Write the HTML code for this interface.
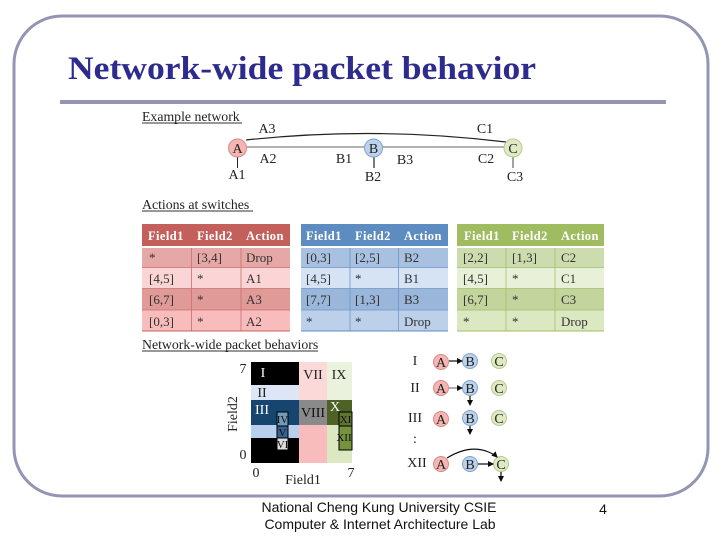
<!DOCTYPE html>
<html>
<head>
<meta charset="utf-8">
<style>
html,body{margin:0;padding:0;background:#fff;width:720px;height:540px;overflow:hidden}
svg{display:block}
.s{font-family:"Liberation Serif",serif;fill:#222}
.f{font-family:"Liberation Sans",sans-serif;fill:#111}
.c{font-size:13px;fill:#333}
.h{font-size:12.5px;font-weight:bold;fill:#fff;letter-spacing:.4px}
.u{font-size:13.8px;fill:#222}
</style>
</head>
<body>
<svg width="720" height="540" viewBox="0 0 720 540" xmlns="http://www.w3.org/2000/svg">
<defs>
<filter id="b" x="-2%" y="-2%" width="104%" height="104%"><feGaussianBlur stdDeviation="0.35"/></filter>
<marker id="ar" markerWidth="7" markerHeight="7" refX="5" refY="3" orient="auto" markerUnits="userSpaceOnUse"><path d="M0,0 L6,3 L0,6 z" fill="#111"/></marker>
</defs>
<rect x="14" y="16" width="694" height="480" rx="48" ry="48" fill="#fff" stroke="#9495b5" stroke-width="3"/>
<rect x="60" y="100" width="606" height="4" fill="#9495b5"/>
<text x="68" y="79" textLength="468" lengthAdjust="spacingAndGlyphs" style="font-family:'Liberation Serif',serif;font-weight:bold;font-size:33px;fill:#2e2b8f">Network-wide packet behavior</text>

<g filter="url(#b)">
<!-- Example network -->
<text class="s u" x="142" y="121">Example network</text><rect x="142" y="122.500" width="100" height="1" fill="#333"/>
<path d="M246,140 Q375,126 506,142" fill="none" stroke="#222" stroke-width="1.200"/>
<line x1="247" y1="147" x2="504" y2="147" stroke="#666" stroke-width="1"/>
<line x1="237.500" y1="157" x2="237.500" y2="168" stroke="#222" stroke-width="1"/>
<line x1="374" y1="157" x2="374" y2="168" stroke="#222" stroke-width="1.200"/>
<line x1="513" y1="157" x2="513" y2="168" stroke="#444" stroke-width="1"/>
<circle cx="237.500" cy="148" r="9" fill="#f5b5b2" stroke="#d88a88"/>
<circle cx="373.500" cy="148" r="9" fill="#bcd2ec" stroke="#7fa3cc"/>
<circle cx="513" cy="148" r="9" fill="#dfeac4" stroke="#b5c98c"/>
<g class="s" font-size="14" text-anchor="middle">
<text x="237.500" y="153">A</text><text x="373.500" y="153">B</text><text x="513" y="153">C</text>
<text x="267" y="133">A3</text><text x="485" y="133">C1</text>
<text x="268" y="163">A2</text><text x="344" y="163">B1</text><text x="405" y="164">B3</text><text x="486" y="163">C2</text>
<text x="237" y="179">A1</text><text x="373" y="181">B2</text><text x="515" y="181">C3</text>
</g>
<text class="s u" x="142" y="209">Actions at switches</text><rect x="142" y="210.500" width="111" height="1" fill="#333"/>

<!-- Red table -->
<rect x="142" y="224" width="148" height="22" fill="#c4605c"/>
<rect x="142" y="248" width="148" height="19.500" fill="#e6a8a6"/>
<rect x="142" y="267.500" width="148" height="21" fill="#fbd5d5"/>
<rect x="142" y="288.500" width="148" height="21.500" fill="#e09b99"/>
<rect x="142" y="310" width="148" height="21" fill="#f9bcbc"/>
<path d="M142,267.500H290M142,288.500H290M142,310H290M191.500,248V331M241,248V331" stroke="#c9706d" stroke-width=".8" fill="none"/>
<rect x="142" y="330.500" width="148" height="1" fill="#c4605c"/>
<!-- Blue table -->
<rect x="301" y="224" width="147" height="22" fill="#5b8cc0"/>
<rect x="301" y="248" width="147" height="19.500" fill="#a9c1e0"/>
<rect x="301" y="267.500" width="147" height="21" fill="#d5e3f5"/>
<rect x="301" y="288.500" width="147" height="21.500" fill="#9ab6da"/>
<rect x="301" y="310" width="147" height="21" fill="#bcd0ea"/>
<path d="M301,267.500H448M301,288.500H448M301,310H448M350,248V331M398.500,248V331" stroke="#6f97c6" stroke-width=".8" fill="none"/>
<rect x="301" y="330.500" width="147" height="1" fill="#5b8cc0"/>
<!-- Green table -->
<rect x="457" y="224" width="147" height="22" fill="#a0bc60"/>
<rect x="457" y="248" width="147" height="19.500" fill="#cddcae"/>
<rect x="457" y="267.500" width="147" height="21" fill="#e8f1d8"/>
<rect x="457" y="288.500" width="147" height="21.500" fill="#c3d59d"/>
<rect x="457" y="310" width="147" height="21" fill="#dbe8c2"/>
<path d="M457,267.500H604M457,288.500H604M457,310H604M506,248V331M555,248V331" stroke="#a5bf6c" stroke-width=".8" fill="none"/>
<rect x="457" y="330.500" width="147" height="1" fill="#a0bc60"/>

<g class="s h">
<text class="h" x="148" y="240">Field1</text><text class="h" x="197" y="240">Field2</text><text class="h" x="246" y="240">Action</text>
<text class="h" x="306" y="240">Field1</text><text class="h" x="355" y="240">Field2</text><text class="h" x="404" y="240">Action</text>
<text class="h" x="464" y="240">Field1</text><text class="h" x="512" y="240">Field2</text><text class="h" x="561" y="240">Action</text>
</g>
<g class="s c">
<text class="c" x="149" y="262">*</text><text class="c" x="197" y="262">[3,4]</text><text class="c" x="246" y="262">Drop</text>
<text class="c" x="149" y="283">[4,5]</text><text class="c" x="197" y="283">*</text><text class="c" x="246" y="283">A1</text>
<text class="c" x="149" y="304">[6,7]</text><text class="c" x="197" y="304">*</text><text class="c" x="246" y="304">A3</text>
<text class="c" x="149" y="326">[0,3]</text><text class="c" x="197" y="326">*</text><text class="c" x="246" y="326">A2</text>

<text class="c" x="306" y="262">[0,3]</text><text class="c" x="355" y="262">[2,5]</text><text class="c" x="404" y="262">B2</text>
<text class="c" x="306" y="283">[4,5]</text><text class="c" x="355" y="283">*</text><text class="c" x="404" y="283">B1</text>
<text class="c" x="306" y="304">[7,7]</text><text class="c" x="355" y="304">[1,3]</text><text class="c" x="404" y="304">B3</text>
<text class="c" x="306" y="326">*</text><text class="c" x="355" y="326">*</text><text class="c" x="404" y="326">Drop</text>

<text class="c" x="463" y="262">[2,2]</text><text class="c" x="512" y="262">[1,3]</text><text class="c" x="561" y="262">C2</text>
<text class="c" x="463" y="283">[4,5]</text><text class="c" x="512" y="283">*</text><text class="c" x="561" y="283">C1</text>
<text class="c" x="463" y="304">[6,7]</text><text class="c" x="512" y="304">*</text><text class="c" x="561" y="304">C3</text>
<text class="c" x="463" y="326">*</text><text class="c" x="512" y="326">*</text><text class="c" x="561" y="326">Drop</text>
</g>

<text class="s u" x="142" y="349">Network-wide packet behaviors</text><rect x="142" y="350.500" width="176" height="1" fill="#333"/>

<!-- Heat map -->
<rect x="251" y="362" width="48" height="23" fill="#000"/>
<rect x="251" y="385" width="48" height="15" fill="#dce6f5"/>
<rect x="251" y="400" width="48" height="25" fill="#17456f"/>
<rect x="251" y="425" width="48" height="13" fill="#b8cfee"/>
<rect x="251" y="438" width="48" height="25" fill="#000"/>
<rect x="299" y="362" width="28" height="38" fill="#fcd9d9"/>
<rect x="299" y="400" width="28" height="25" fill="#8a8a8a"/>
<rect x="299" y="425" width="28" height="38" fill="#f9bcbc"/>
<rect x="327" y="362" width="25" height="38" fill="#eaf1dc"/>
<rect x="327" y="400" width="25" height="25" fill="#4f6228"/>
<rect x="327" y="425" width="25" height="38" fill="#dbe8c2"/>
<rect x="277" y="412" width="11" height="14" fill="#6f9ab8" stroke="#000"/>
<rect x="277" y="426" width="11" height="12" fill="#366092" stroke="#000"/>
<rect x="277" y="438" width="11" height="12" fill="#ddd" stroke="#000"/>
<rect x="339" y="412" width="13" height="14" fill="#5f7530" stroke="#000"/>
<rect x="339" y="426" width="13" height="24" fill="#76923c" stroke="#000"/>
<g class="s" font-size="14" text-anchor="middle">
<text x="263" y="377" style="fill:#fff">I</text>
<text x="262" y="397" style="fill:#222">II</text>
<text x="262" y="414" style="fill:#fff">III</text>
<text x="313" y="379" style="fill:#222">VII</text>
<text x="339" y="379" style="fill:#222">IX</text>
<text x="313" y="417" style="fill:#111">VIII</text>
<text x="335" y="411" style="fill:#fff">X</text>
<text x="282.500" y="423" font-size="11" style="fill:#111">IV</text>
<text x="282.500" y="436" font-size="11" style="fill:#111">V</text>
<text x="282.500" y="448" font-size="11" style="fill:#111">VI</text>
<text x="345.500" y="423" font-size="11" style="fill:#111">XI</text>
<text x="344" y="441" font-size="11" style="fill:#111">XII</text>
<text x="243" y="373">7</text>
<text x="243" y="459">0</text>
<text x="256" y="477">0</text>
<text x="351" y="477">7</text>
<text x="303" y="484">Field1</text>
<text transform="translate(237,414) rotate(-90)" x="0" y="0">Field2</text>
</g>

<!-- Behaviours -->
<g stroke-width="1">
<circle cx="441" cy="362" r="7.500" fill="#f5b5b2" stroke="#d88a88"/>
<circle cx="470" cy="361" r="7.500" fill="#bcd2ec" stroke="#7fa3cc"/>
<circle cx="499" cy="361" r="7.500" fill="#dfeac4" stroke="#b5c98c"/>
<circle cx="441" cy="388" r="7.500" fill="#f5b5b2" stroke="#d88a88"/>
<circle cx="470" cy="388" r="7.500" fill="#bcd2ec" stroke="#7fa3cc"/>
<circle cx="499" cy="388" r="7.500" fill="#dfeac4" stroke="#b5c98c"/>
<circle cx="441" cy="419" r="7.500" fill="#f5b5b2" stroke="#d88a88"/>
<circle cx="470" cy="418" r="7.500" fill="#bcd2ec" stroke="#7fa3cc"/>
<circle cx="499" cy="418" r="7.500" fill="#dfeac4" stroke="#b5c98c"/>
<circle cx="441" cy="464" r="7.500" fill="#f5b5b2" stroke="#d88a88"/>
<circle cx="470" cy="464" r="7.500" fill="#bcd2ec" stroke="#7fa3cc"/>
<circle cx="501" cy="464" r="7.500" fill="#dfeac4" stroke="#b5c98c"/>
</g>
<g fill="none" stroke="#111" stroke-width="1.200" marker-end="url(#ar)">
<line x1="449" y1="361" x2="462" y2="361"/>
<line x1="449" y1="388" x2="462" y2="388" stroke="#777"/>
<line x1="470" y1="396" x2="470" y2="405"/>
<line x1="470" y1="426" x2="470" y2="434"/>
<line x1="478" y1="464" x2="493" y2="464"/>
<line x1="501" y1="472" x2="501" y2="481"/>
<path d="M447,458 Q468,445 486,451 Q494,454 497,457"/>
</g>
<g class="s" font-size="14" text-anchor="middle">
<text x="441" y="367">A</text><text x="470" y="366">B</text><text x="499" y="366">C</text>
<text x="441" y="393">A</text><text x="470" y="393">B</text><text x="499" y="393">C</text>
<text x="441" y="424">A</text><text x="470" y="423">B</text><text x="499" y="423">C</text>
<text x="441" y="469">A</text><text x="470" y="469">B</text><text x="501" y="469">C</text>
<text x="415" y="365">I</text>
<text x="415" y="392">II</text>
<text x="415" y="422">III</text>
<text x="415" y="443">:</text>
<text x="417" y="467">XII</text>
</g>
</g>

<text class="f" x="379" y="512" font-size="14" text-anchor="middle">National Cheng Kung University CSIE</text>
<text class="f" x="380" y="529" font-size="14" text-anchor="middle">Computer &amp; Internet Architecture Lab</text>
<text class="f" x="603" y="514" font-size="14" text-anchor="middle">4</text>
</svg>
</body>
</html>
